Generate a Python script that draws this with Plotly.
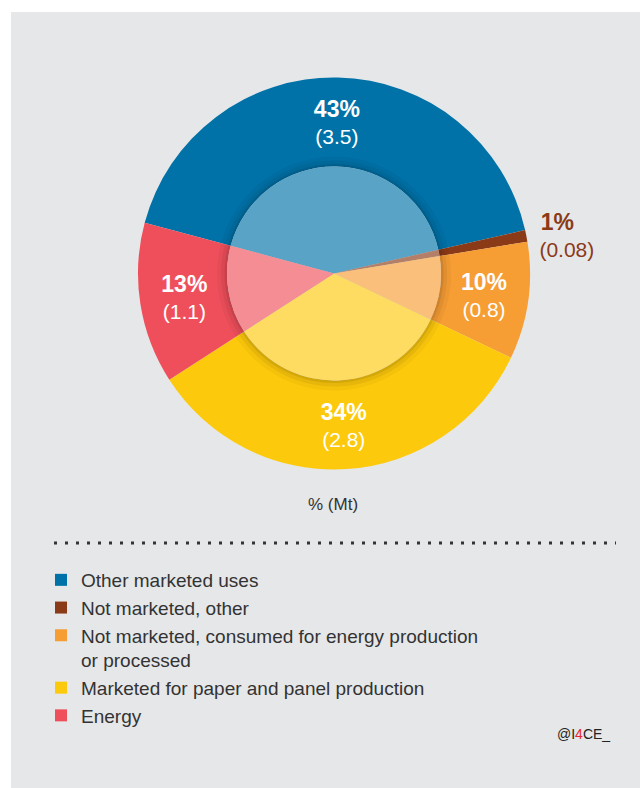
import plotly.graph_objects as go

# data
categories = [
    "Other marketed uses",
    "Not marketed, other",
    "Not marketed, consumed for energy production<br>or processed",
    "Marketed for paper and panel production",
    "Energy",
]
mass_mt = [3.5, 0.08, 0.8, 2.8, 1.1]
share_pct = [43, 1, 10, 34, 13]

palette = ['#0072A8', '#8B3A17', '#F69D34', '#FDC90C', '#EE4F5B']


def lighten(hex_col, amt=0.35):
    r, g, b = (int(hex_col[i:i + 2], 16) for i in (1, 3, 5))
    r, g, b = (round(c + (255 - c) * amt) for c in (r, g, b))
    return f'rgb({r},{g},{b})'


W, H = 640, 788
cx, cy = 334, 273.5
R_OUT, R_IN = 196, 107


def dom(r):
    return dict(x=[(cx - r) / W, (cx + r) / W], y=[1 - (cy + r) / H, 1 - (cy - r) / H])


txt_pos = ['inside', 'outside', 'inside', 'inside', 'inside']
txt_col = ['white', '#8B3A17', 'white', 'white', 'white']
# small outside label is left-aligned in the original, pad the short line
pad = ['', '&nbsp;&nbsp;&nbsp;', '', '', '']
labels_txt = [f"<span style='font-size:23px'><b>{p}%</b>{s}</span><br>({m})"
              for p, m, s in zip(share_pct, mass_mt, pad)]

fig = go.Figure()

# outer ring
fig.add_trace(go.Pie(
    labels=categories, values=mass_mt, sort=False, direction='clockwise', rotation=-75,
    hole=R_IN / R_OUT, domain=dom(R_OUT),
    marker=dict(colors=palette, line=dict(width=0)),
    text=labels_txt, textinfo='text', textposition=txt_pos,
    insidetextorientation='horizontal',
    textfont=dict(color=txt_col, size=21, family='Liberation Sans, Arial'),
    hoverinfo='label+value', showlegend=True,
))

# soft shadow round the inner disc
for r, a in [(117, 0.035), (113, 0.055), (109.5, 0.08)]:
    fig.add_trace(go.Pie(
        labels=categories, values=mass_mt, sort=False, direction='clockwise', rotation=-75,
        domain=dom(r), marker=dict(colors=[f'rgba(0,0,0,{a})'] * len(mass_mt), line=dict(width=0)),
        textinfo='none', hoverinfo='skip', showlegend=False,
    ))

# lighter inner disc
fig.add_trace(go.Pie(
    labels=categories, values=mass_mt, sort=False, direction='clockwise', rotation=-75,
    domain=dom(R_IN), marker=dict(colors=[lighten(c) for c in palette], line=dict(width=0)),
    textinfo='none', hoverinfo='label+value', showlegend=False,
))

fig.update_layout(
    width=W, height=H,
    paper_bgcolor='white', plot_bgcolor='rgba(0,0,0,0)',
    margin=dict(t=0, b=0, l=0, r=0),
    font=dict(family='Liberation Sans, Arial', color='#333333'),
    legend=dict(
        x=41 / W, y=1 - 561 / H, xanchor='left', yanchor='top',
        orientation='v', valign='top', traceorder='normal',
        font=dict(size=19, color='#333333'), bgcolor='rgba(0,0,0,0)',
    ),
    shapes=[
        dict(type='rect', xref='paper', yref='paper', x0=11 / W, x1=1, y0=0, y1=1 - 12 / H,
             fillcolor='#E6E7E8', line=dict(width=0), layer='below'),
        dict(type='line', xref='paper', yref='paper', x0=54 / W, x1=616 / W,
             y0=1 - 543 / H, y1=1 - 543 / H,
             line=dict(color='#333333', width=3, dash='3px,8px'), layer='below'),
    ],
    annotations=[
        dict(text='% (Mt)', x=333 / W, y=1 - 505 / H, xref='paper', yref='paper',
             showarrow=False, font=dict(size=17, color='#333333')),
        dict(text="@I<span style='color:#E8262B'>4</span>CE_", x=612 / W, y=1 - 744 / H,
             xref='paper', yref='paper', xanchor='right', showarrow=False,
             font=dict(size=14, color='#222222')),
    ],
)

fig.write_html("out.html", config={'displayModeBar': False},
               post_script="document.body.style.margin='0';")
